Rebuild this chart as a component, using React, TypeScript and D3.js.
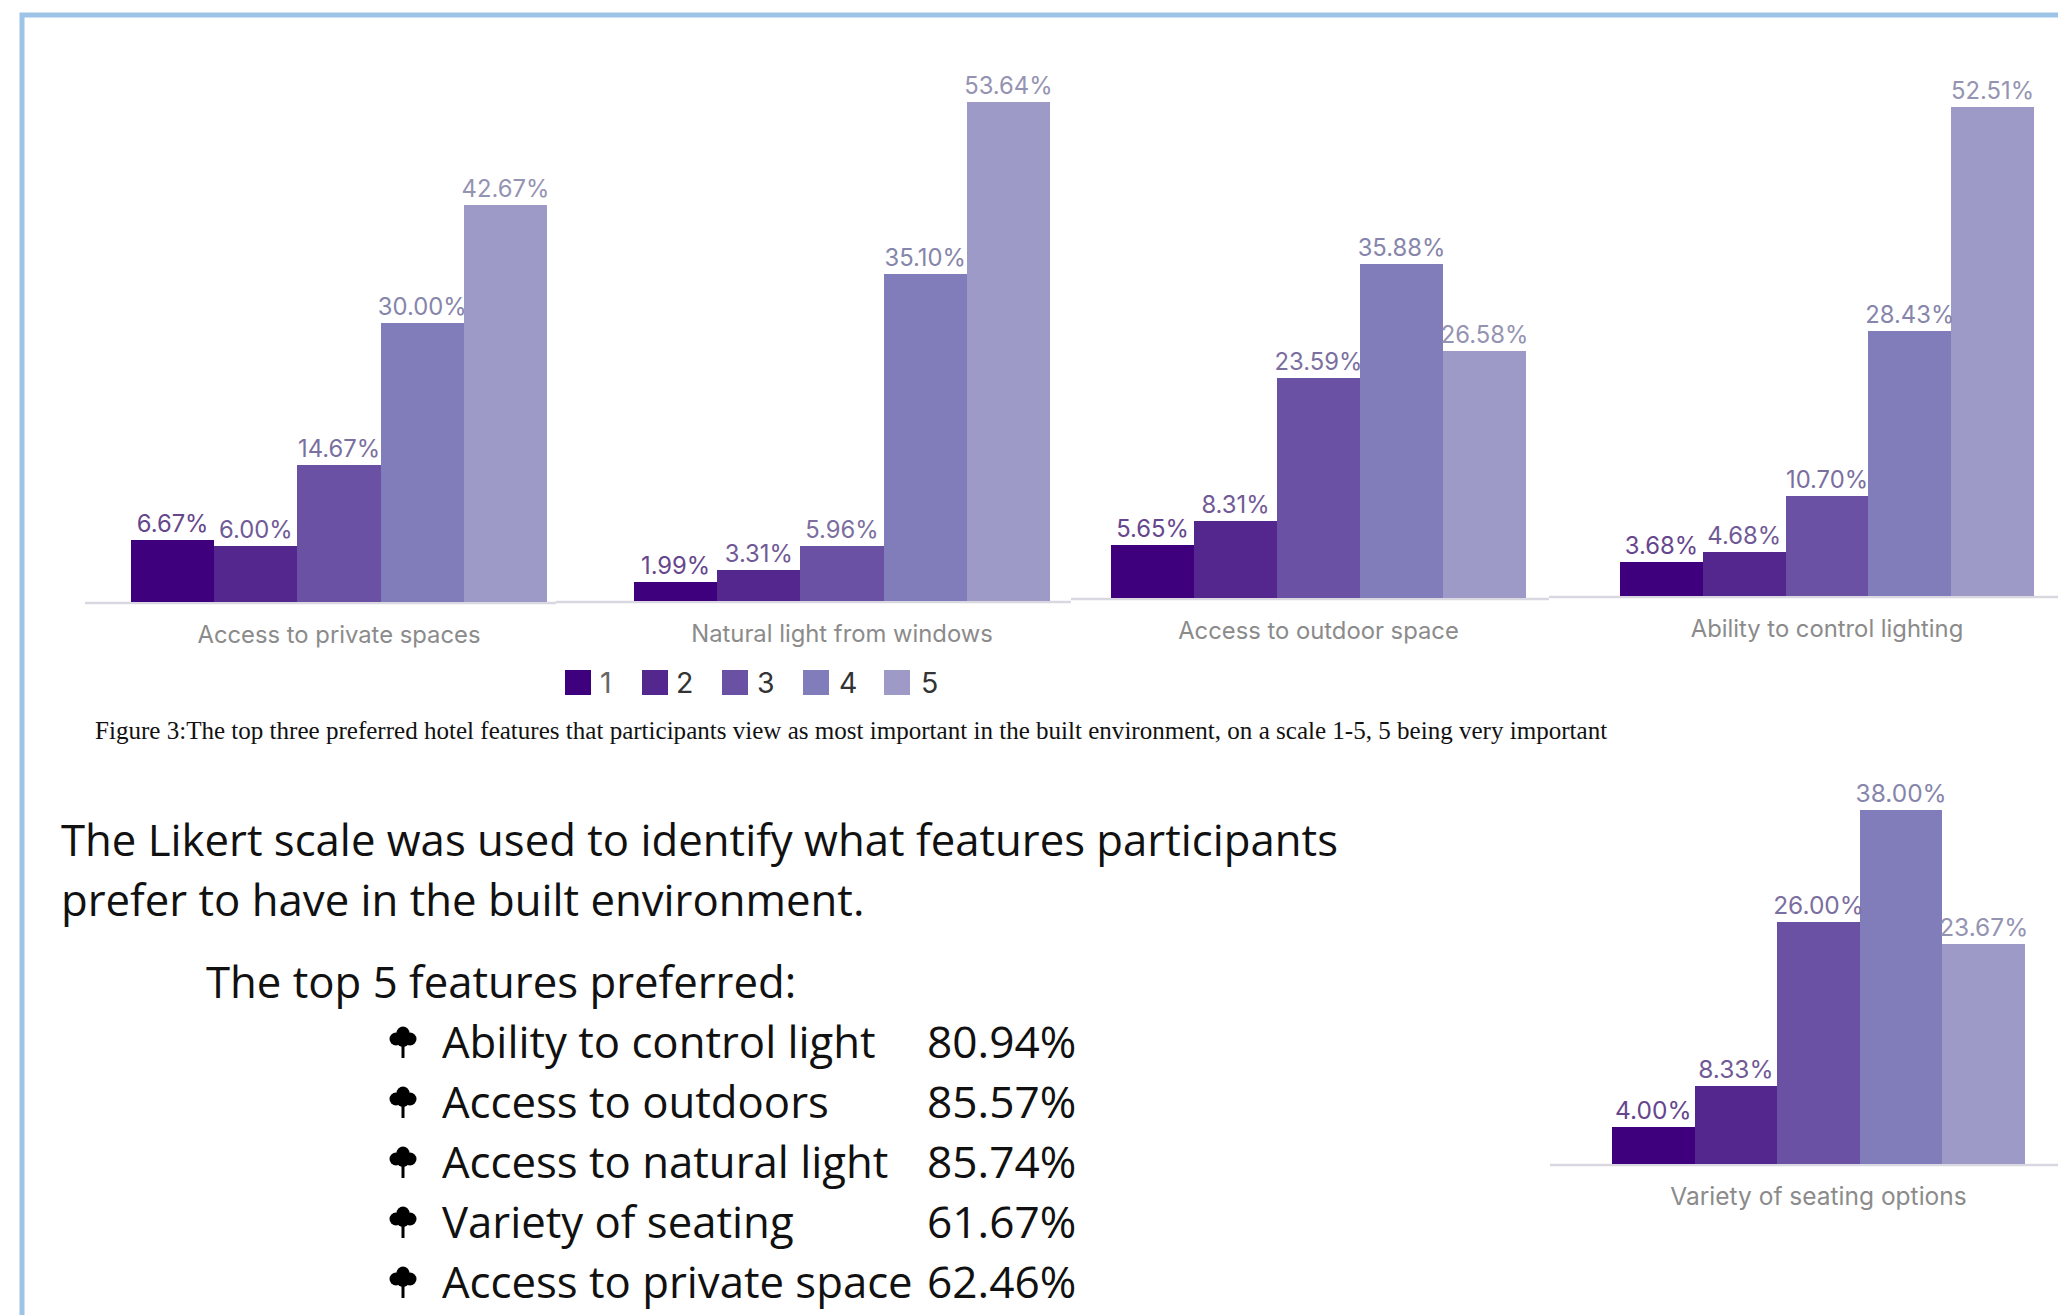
import React from "react";
import * as d3 from "d3";

const W = 2058;
const H = 1315;

// ratings 1-5, darkest first
const ratings = ["1", "2", "3", "4", "5"];
const colors = d3.schemePurples[9].slice(4).reverse();

const categories = [
  "Access to private spaces",
  "Natural light from windows",
  "Access to outdoor space",
  "Ability to control lighting",
  "Variety of seating options",
];

const privateSpaces = [6.67, 6.0, 14.67, 30.0, 42.67];
const naturalLight = [1.99, 3.31, 5.96, 35.1, 53.64];
const outdoorSpace = [5.65, 8.31, 23.59, 35.88, 26.58];
const controlLighting = [3.68, 4.68, 10.7, 28.43, 52.51];
const seatingOptions = [4.0, 8.33, 26.0, 38.0, 23.67];
const allValues = [privateSpaces, naturalLight, outdoorSpace, controlLighting, seatingOptions];

// where each pasted chart sits on the slide
const panels = [
  { left: 131, right: 547, base: 602, axisFrom: 85, axisTo: 556, font: 23.8 },
  { left: 634, right: 1050, base: 601, axisFrom: 556, axisTo: 1071, font: 23.8 },
  { left: 1111, right: 1526, base: 598, axisFrom: 1071, axisTo: 1549, font: 23.8 },
  { left: 1620, right: 2034, base: 596, axisFrom: 1549, axisTo: 2058, font: 23.8 },
  { left: 1612, right: 2025, base: 1164, axisFrom: 1550, axisTo: 2058, font: 24.5 },
];

const legendSwatchX = [565, 642, 722, 803, 884];
const legendTextX = [600, 676, 757, 839, 921];

const caption =
  "Figure 3:The top three preferred hotel features that participants view as most important in the built environment, on a scale 1-5, 5 being very important";
const introLines = [
  "The Likert scale was used to identify what features participants",
  "prefer to have in the built environment.",
];
const topHeading = "The top 5 features preferred:";
const topFeatures = [
  "Ability to control light",
  "Access to outdoors",
  "Access to natural light",
  "Variety of seating",
  "Access to private space",
];
const topPercents = ["80.94%", "85.57%", "85.74%", "61.67%", "62.46%"];

const pxPerPercent = 9.31;
const height = d3.scaleLinear().domain([0, 100]).range([0, 100 * pxPerPercent]);
const fmt = (v: number) => d3.format(".2f")(v) + "%";
const labelColor = (c: string) => d3.interpolateRgb(c, "#8c8c9c")(0.5);

const chartFont = "Inter, sans-serif";
const bodyFont = "'Open Sans', sans-serif";

const TreeBullet = ({ x, y }: { x: number; y: number }) => (
  <g transform={`translate(${x} ${y})`} fill="#000">
    <circle cx={0} cy={-24} r={6.5} />
    <circle cx={-7} cy={-18} r={6.5} />
    <circle cx={7} cy={-18} r={6.5} />
    <circle cx={0} cy={-16} r={6} />
    <rect x={-1.5} y={-16} width={3} height={17} />
  </g>
);

const Panel = ({ index }: { index: number }) => {
  const p = panels[index];
  const values = allValues[index];
  const x = d3.scaleBand().domain(ratings).range([p.left, p.right]);
  return (
    <g fontFamily={chartFont}>
      <line x1={p.axisFrom} x2={p.axisTo} y1={p.base + 1} y2={p.base + 1} stroke="#d9d7df" strokeWidth={2.5} />
      {values.map((v, i) => (
        <rect
          key={ratings[i]}
          x={x(ratings[i])}
          y={p.base - height(v)}
          width={x.bandwidth()}
          height={height(v)}
          fill={colors[i]}
          shapeRendering="crispEdges"
        />
      ))}
      {values.map((v, i) => (
        <text
          key={ratings[i]}
          x={(x(ratings[i]) as number) + x.bandwidth() / 2}
          y={p.base - height(v) - 8}
          textAnchor="middle"
          fontSize={p.font}
          fill={labelColor(colors[i])}
        >
          {fmt(v)}
        </text>
      ))}
      <text
        x={(p.left + p.right) / 2}
        y={p.base + 41}
        textAnchor="middle"
        fontSize={p.font}
        fill="#8b8b8b"
      >
        {categories[index]}
      </text>
    </g>
  );
};

export default function App() {
  return (
    <svg
      width={W}
      height={H}
      viewBox={`0 0 ${W} ${H}`}
      style={{ position: "absolute", left: 0, top: 0, display: "block", background: "#fff" }}
    >
      <rect x={22} y={15} width={W} height={H} fill="none" stroke="#9dc3e6" strokeWidth={5} />

      {categories.map((c, i) => (
        <Panel key={c} index={i} />
      ))}

      <g fontFamily={chartFont} fontSize={28.5}>
        {ratings.map((r, i) => (
          <g key={r}>
            <rect x={legendSwatchX[i]} y={670} width={26} height={25} fill={colors[i]} />
            <text x={legendTextX[i]} y={693} fill={i === 0 ? "#666" : "#333"}>
              {r}
            </text>
          </g>
        ))}
      </g>

      <text x={95} y={739} fontFamily="'Liberation Serif', serif" fontSize={25.06} fill="#111">
        {caption}
      </text>

      <g fontFamily={bodyFont} fontSize={43.7} fill="#111">
        {introLines.map((l, i) => (
          <text key={l} x={61} y={856 + i * 60}>
            {l}
          </text>
        ))}
        <text x={206} y={998}>
          {topHeading}
        </text>
        {topFeatures.map((f, i) => (
          <g key={f}>
            <TreeBullet x={403} y={1057 + i * 60} />
            <text x={442} y={1058 + i * 60}>
              {f}
            </text>
            <text x={927} y={1058 + i * 60} fontSize={44.2}>
              {topPercents[i]}
            </text>
          </g>
        ))}
      </g>
    </svg>
  );
}
